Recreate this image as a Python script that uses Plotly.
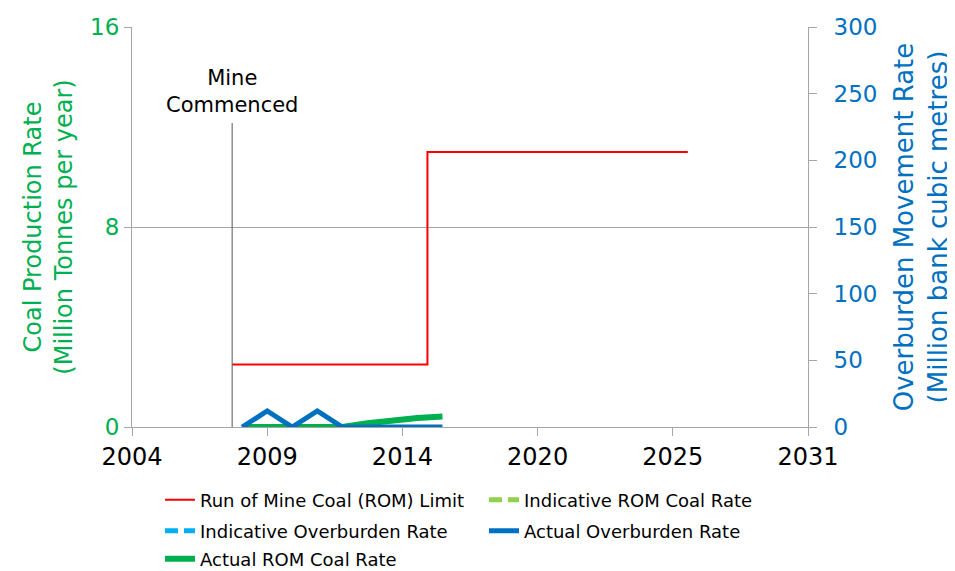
import plotly.graph_objects as go

# ---------------- data ----------------
x_range = [2004, 2031]
x_tickvals = [2004, 2009.4, 2014.8, 2020.2, 2025.6, 2031]
x_ticktext = ["2004", "2009", "2014", "2020", "2025", "2031"]

rom_limit_years = [2008.0, 2015.8, 2026.2]
rom_limit_values = [2.5, 11.0, 11.0]

actual_years = [2008.4, 2009.4, 2010.4, 2011.4, 2012.4, 2013.4, 2014.4, 2015.4, 2016.4]
actual_overburden = [0, 12, 0, 12, 0, 0, 0, 0, 0]
actual_rom = [0, 0, 0, 0, 0, 0.15, 0.27, 0.36, 0.42]

# indicative series are listed in the legend but not visible in the picture
indicative_years = [None]
indicative_rom = [None]
indicative_overburden = [None]

mine_commenced_year = 2008.0
mine_commenced_top = 12.16

left_range = [0, 16]
left_ticks = [0, 8, 16]
right_range = [0, 300]
right_ticks = [0, 50, 100, 150, 200, 250, 300]

FONT = "DejaVu Sans"
GREEN = "#00B050"
BLUE = "#0070C0"
RED = "#FF0000"
LGREEN = "#92D050"
LBLUE = "#00B0F0"
GRID = "#A6A6A6"

fig = go.Figure()

fig.add_trace(go.Scatter(
    x=rom_limit_years, y=rom_limit_values, mode="lines", line_shape="hv",
    line=dict(color=RED, width=2), name="Run of Mine Coal (ROM) Limit",
    legend="legend", yaxis="y"))
fig.add_trace(go.Scatter(
    x=indicative_years, y=indicative_rom, mode="lines",
    line=dict(color=LGREEN, width=5, dash="13px,6px"), name="Indicative ROM Coal Rate",
    legend="legend2", yaxis="y"))
fig.add_trace(go.Scatter(
    x=indicative_years, y=indicative_overburden, mode="lines",
    line=dict(color=LBLUE, width=5, dash="13px,6px"), name="Indicative Overburden Rate",
    legend="legend3", yaxis="y2"))
fig.add_trace(go.Scatter(
    x=actual_years, y=actual_overburden, mode="lines",
    line=dict(color=BLUE, width=5), name="Actual Overburden Rate",
    legend="legend4", yaxis="y2"))
fig.add_trace(go.Scatter(
    x=actual_years, y=actual_rom, mode="lines",
    line=dict(color=GREEN, width=6), name="Actual ROM Coal Rate",
    legend="legend5", yaxis="y"))

# the page body adds an 8px offset, so the figure is drawn from (8, 8)
OFF = 8
W, H = 955 - OFF, 571 - OFF
L, T = 132 - OFF, 27 - OFF
R = W - (808 - OFF)
B = H - (427 - OFF)


def cx(px):
    return (px - OFF) / W


def cy(py):
    return 1 - (py - OFF) / H


leg_common = dict(orientation="h", font=dict(family=FONT, size=18, color="#000000"),
                  bgcolor="rgba(0,0,0,0)", itemwidth=30, xanchor="left", yanchor="middle",
                  xref="container", yref="container")

fig.add_shape(type="line", xref="x", yref="y", x0=mine_commenced_year, x1=mine_commenced_year,
              y0=0, y1=mine_commenced_top, line=dict(color="#595959", width=1))
fig.add_annotation(x=mine_commenced_year, y=mine_commenced_top, xref="x", yref="y",
                   text="Mine<br>Commenced", showarrow=False, yanchor="bottom", yshift=4,
                   font=dict(family=FONT, size=21, color="#000000"))

fig.update_layout(
    width=W, height=H,
    margin=dict(l=L, r=R, t=T, b=B, autoexpand=False),
    paper_bgcolor="white", plot_bgcolor="white",
    font=dict(family=FONT),
    showlegend=True,
    xaxis=dict(range=x_range, tickvals=x_tickvals, ticktext=x_ticktext,
               showgrid=False, zeroline=False, showline=True, linecolor=GRID, linewidth=1,
               ticks="outside", ticklen=8, tickcolor=GRID,
               tickfont=dict(family=FONT, size=24, color="#000000")),
    yaxis=dict(range=left_range, tickvals=left_ticks, showgrid=True, gridcolor=GRID,
               zeroline=False, showline=True, linecolor=GRID, linewidth=1,
               ticks="outside", ticklen=7, tickcolor=GRID,
               tickfont=dict(family=FONT, size=23, color=GREEN),
               title=dict(text="Coal Production Rate<br>(Million Tonnes per year)",
                          font=dict(family=FONT, size=24, color=GREEN), standoff=10)),
    yaxis2=dict(range=right_range, tickvals=right_ticks, overlaying="y", side="right",
                showgrid=False, zeroline=False, showline=True, linecolor=GRID, linewidth=1,
                ticks="outside", ticklen=8, tickcolor=GRID, ticklabelstandoff=12,
                tickfont=dict(family=FONT, size=23, color=BLUE),
                title=dict(text="Overburden Movement Rate<br>(Million bank cubic metres)",
                           font=dict(family=FONT, size=26, color=BLUE), standoff=18)),
    legend=dict(**leg_common, x=cx(160), y=cy(500)),
    legend2=dict(**leg_common, x=cx(484), y=cy(500)),
    legend3=dict(**leg_common, x=cx(160), y=cy(531)),
    legend4=dict(**leg_common, x=cx(484), y=cy(531)),
    legend5=dict(**leg_common, x=cx(160), y=cy(559)),
)

fig.write_html("out.html")
